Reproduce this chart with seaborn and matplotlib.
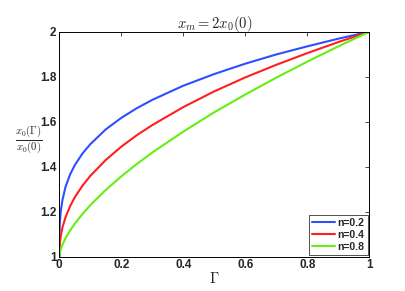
import matplotlib
matplotlib.use("Agg")
import matplotlib.pyplot as plt
import seaborn as sns
import pandas as pd

gamma = [0, 0.001, 0.002, 0.005, 0.01, 0.02, 0.035, 0.05, 0.075, 0.1, 0.15, 0.2,
         0.25, 0.3, 0.4, 0.5, 0.6, 0.7, 0.8, 0.9, 1.0]
n02 = [1.0, 1.126, 1.155, 1.204, 1.25, 1.31, 1.366, 1.407, 1.459, 1.50, 1.566, 1.617,
       1.66, 1.697, 1.76, 1.812, 1.858, 1.899, 1.935, 1.969, 2.0]
n04 = [1.0, 1.046, 1.063, 1.095, 1.129, 1.175, 1.225, 1.264, 1.316, 1.359, 1.43, 1.489,
       1.54, 1.585, 1.665, 1.735, 1.797, 1.853, 1.905, 1.954, 2.0]
n08 = [1.0, 1.012, 1.019, 1.034, 1.052, 1.082, 1.117, 1.147, 1.19, 1.229, 1.297, 1.357,
       1.412, 1.463, 1.556, 1.642, 1.721, 1.796, 1.867, 1.935, 2.0]
labels = ["n=0.2", "n=0.4", "n=0.8"]
colors = ["#2f4fff", "#ff1f1f", "#66ee11"]
xticks = [0, 0.2, 0.4, 0.6, 0.8, 1]
yticks = [1, 1.2, 1.4, 1.6, 1.8, 2]
ytick_labels = ["1", "1.2", "1.4", "1.6", "1.8", "2"]
xtick_labels = ["0", "0.2", "0.4", "0.6", "0.8", "1"]

rows = []
for lab, vals in zip(labels, [n02, n04, n08]):
    for g, v in zip(gamma, vals):
        rows.append({"Gamma": g, "ratio": v, "n": lab})
df = pd.DataFrame(rows)

sns.set_style("white")
plt.rcParams["font.family"] = ["Liberation Sans", "DejaVu Sans"]
plt.rcParams["mathtext.fontset"] = "cm"

fig = plt.figure(figsize=(4.05, 2.91), dpi=100)
ax = fig.add_axes([0.1464, 0.118, 0.7656, 0.773])
sns.lineplot(data=df, x="Gamma", y="ratio", hue="n", palette=colors,
             linewidth=1.5, ax=ax, legend=True)

ax.set_xlim(0, 1)
ax.set_ylim(1, 2)
ax.set_xticks(xticks)
ax.set_xticklabels(xtick_labels)
ax.set_yticks(yticks)
ax.set_yticklabels(ytick_labels)
ax.tick_params(direction="in", top=True, right=True, length=3, width=0.6,
               labelsize=8.5, pad=2)
for t in ax.get_xticklabels() + ax.get_yticklabels():
    t.set_fontweight("bold")
for s in ax.spines.values():
    s.set_linewidth(0.7)
    s.set_color("black")

ax.set_title(r"$x_m = 2x_0(0)$", fontsize=10.5, pad=3)
ax.set_xlabel(r"$\Gamma$", fontsize=10.5, labelpad=0)
ax.set_ylabel(r"$\frac{x_0(\Gamma)}{x_0(0)}$", fontsize=11, rotation=0,
              labelpad=12, va="center")
ax.yaxis.set_label_coords(-0.1, 0.52)

leg = ax.legend(loc="lower right", frameon=True, fancybox=False,
                prop={"weight": "bold", "size": 7.5}, handlelength=2.2,
                borderpad=0.3, labelspacing=0.2, handletextpad=0.3,
                borderaxespad=0.15)
leg.get_frame().set_edgecolor("black")
leg.get_frame().set_linewidth(0.6)
leg.set_title(None)

fig.savefig("out.png", dpi=100)
